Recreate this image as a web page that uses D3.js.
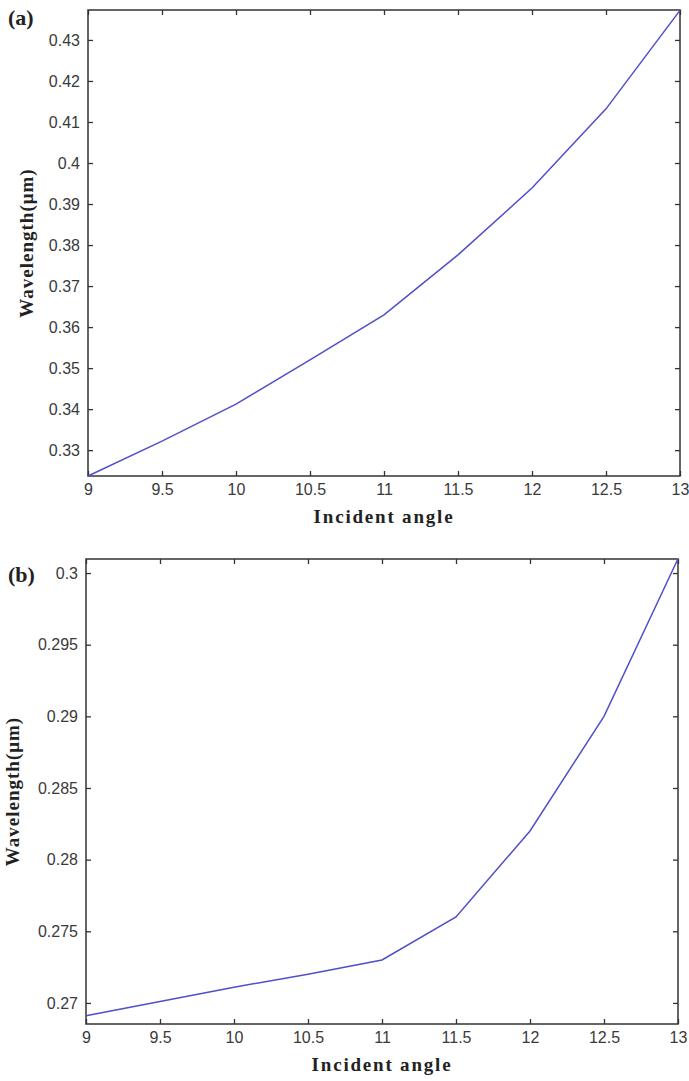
<!DOCTYPE html>
<html><head><meta charset="utf-8">
<script src="https://cdn.jsdelivr.net/npm/d3@7"></script>
<style>body{margin:0;background:#fff}</style>
</head><body>
<svg id="c" width="689" height="1081"></svg>
<script>
const angles = [9, 9.5, 10, 10.5, 11, 11.5, 12, 12.5, 13];
const wavelengthA = [0.3237, 0.3322, 0.3412, 0.352, 0.363, 0.3776, 0.3939, 0.4132, 0.4372];
const wavelengthB = [0.2691, 0.2701, 0.2711, 0.2720, 0.2730, 0.2760, 0.2820, 0.2900, 0.3010];
const xTicks = [9, 9.5, 10, 10.5, 11, 11.5, 12, 12.5, 13];
const yTicksA = [0.33, 0.34, 0.35, 0.36, 0.37, 0.38, 0.39, 0.4, 0.41, 0.42, 0.43];
const yTicksB = [0.27, 0.275, 0.28, 0.285, 0.29, 0.295, 0.3];
const xLabel = "Incident angle";
const yLabel = "Wavelength(μm)";

const svg = d3.select("#c");
const axisColor = "#333";

function panel(opts) {
  const {left, right, top, bottom, yDomain, values, yTicks, tag, ylabX} = opts;
  const x = d3.scaleLinear().domain([9, 13]).range([left, right]);
  const y = d3.scaleLinear().domain(yDomain).range([bottom, top]);
  const g = svg.append("g");
  const tl = 5;
  const bx = g.append("g").attr("transform", `translate(0,${bottom})`)
    .call(d3.axisBottom(x).tickValues(xTicks).tickSizeInner(-tl).tickSizeOuter(0).tickPadding(8).tickFormat(d3.format("")));
  const tx = g.append("g").attr("transform", `translate(0,${top})`)
    .call(d3.axisTop(x).tickValues(xTicks).tickSizeInner(-tl).tickSizeOuter(0).tickFormat(""));
  const ly = g.append("g").attr("transform", `translate(${left},0)`)
    .call(d3.axisLeft(y).tickValues(yTicks).tickSizeInner(-tl).tickSizeOuter(0).tickPadding(8).tickFormat(d => String(+d.toFixed(3))));
  const ry = g.append("g").attr("transform", `translate(${right},0)`)
    .call(d3.axisRight(y).tickValues(yTicks).tickSizeInner(-tl).tickSizeOuter(0).tickFormat(""));
  [bx, tx, ly, ry].forEach(a => {
    a.select(".domain").remove();
    a.selectAll("line").attr("stroke", axisColor).attr("stroke-width", 1.3);
    a.selectAll("text").attr("fill", "#3a3a3a").style("font-family", "'Liberation Sans', Arial, sans-serif").style("font-size", "16px");
  });
  g.append("rect").attr("x", left).attr("y", top).attr("width", right - left).attr("height", bottom - top)
    .attr("fill", "none").attr("stroke", axisColor).attr("stroke-width", 1.5);
  const line = d3.line().x((d, i) => x(angles[i])).y(d => y(d));
  g.append("path").datum(values).attr("d", line).attr("fill", "none")
    .attr("stroke", "#4f4fcc").attr("stroke-width", 1.5);
  g.append("text").attr("x", (left + right) / 2).attr("y", bottom + 47).attr("text-anchor", "middle")
    .style("font-family", "'Liberation Serif', 'Times New Roman', serif").style("font-weight", "bold").style("font-size", "19px")
    .style("letter-spacing", "1.8px")
    .attr("fill", "#222").text(xLabel);
  g.append("text").attr("transform", `translate(${ylabX},${(top + bottom) / 2}) rotate(-90)`).attr("text-anchor", "middle")
    .style("font-family", "'Liberation Serif', 'Times New Roman', serif").style("font-weight", "bold").style("font-size", "19px")
    .style("letter-spacing", "1px")
    .attr("fill", "#222").text(yLabel);
  g.append("text").attr("x", opts.tagX).attr("y", opts.tagY)
    .style("font-family", "'Liberation Serif', 'Times New Roman', serif").style("font-weight", "bold").style("font-size", "22px")
    .attr("fill", "#222").text(tag);
}

panel({left: 88, right: 680, top: 10, bottom: 476, yDomain: [0.3237, 0.4373], values: wavelengthA,
  yTicks: yTicksA, tag: "(a)", ylabX: 33, tagX: 8, tagY: 25});
panel({left: 86, right: 678, top: 559, bottom: 1024, yDomain: [0.26853, 0.30098], values: wavelengthB,
  yTicks: yTicksB, tag: "(b)", ylabX: 19, tagX: 8, tagY: 582});
</script>
</body></html>
